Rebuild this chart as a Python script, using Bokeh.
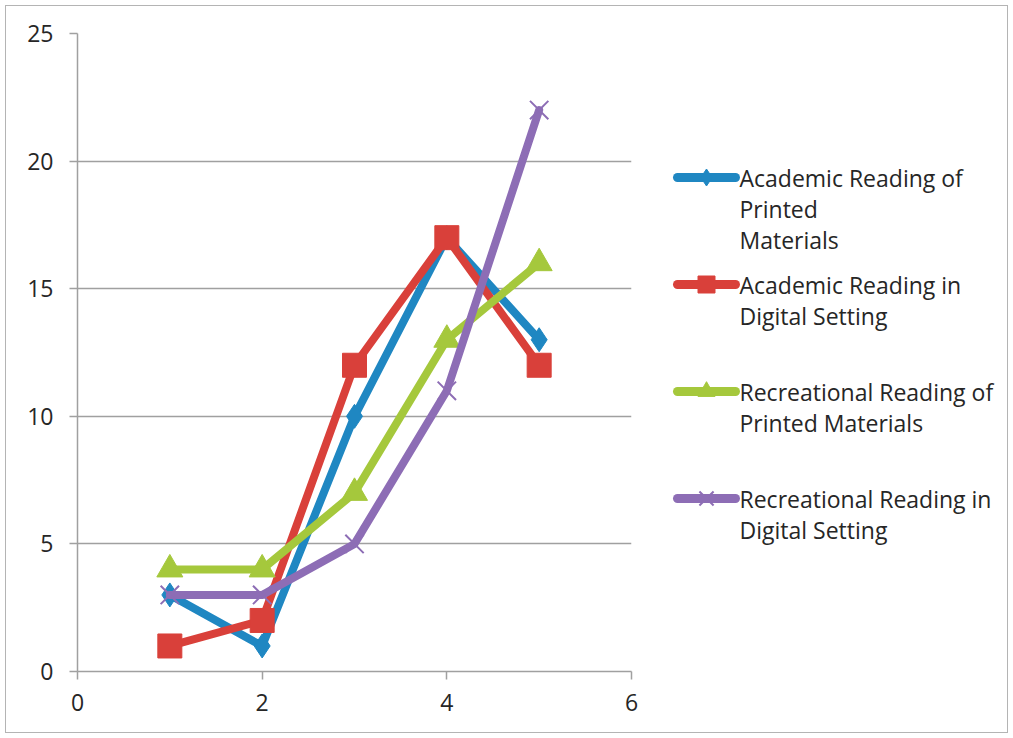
from bokeh.plotting import figure
from bokeh.layouts import row
from bokeh.models import Range1d, FixedTicker
from bokeh.core.properties import value
from bokeh.embed import file_html
from bokeh.resources import INLINE

# Survey scale positions and counts for each reading type
x_vals = [1, 2, 3, 4, 5]
academic_printed = [3, 1, 10, 17, 13]
academic_digital = [1, 2, 12, 17, 12]
recreational_printed = [4, 4, 7, 13, 16]
recreational_digital = [3, 3, 5, 11, 22]

series_names = [
    ["Academic Reading of", "Printed", "Materials"],
    ["Academic Reading in", "Digital Setting"],
    ["Recreational Reading of", "Printed Materials"],
    ["Recreational Reading in", "Digital Setting"],
]
y_ticks = [0, 5, 10, 15, 20, 25]
x_ticks = [0, 2, 4, 6]

FONT = "Open Sans"
TEXT_COLOR = "#262626"
GRID_COLOR = "#a0a0a0"

series = [
    (academic_printed, "#1f87c2", "diamond", 24, 1),
    (academic_digital, "#d9403a", "square", 24, 1),
    (recreational_printed, "#a5c83c", "triangle", 26, 1),
    (recreational_digital, "#8d6db5", "x", 26, 2),
]

p = figure(width=660, height=738, x_range=Range1d(0, 6), y_range=Range1d(0, 25),
           output_backend="svg", toolbar_location=None,
           min_border_left=77, min_border_right=29, min_border_top=33, min_border_bottom=67)
p.outline_line_color = None
p.background_fill_color = "white"
p.border_fill_color = None

p.xgrid.grid_line_color = None
p.ygrid.grid_line_color = GRID_COLOR
p.ygrid.grid_line_width = 1.5
p.ygrid.ticker = FixedTicker(ticks=y_ticks)

for ax, ticks in ((p.xaxis, x_ticks), (p.yaxis, y_ticks)):
    ax.ticker = FixedTicker(ticks=ticks)
    ax.axis_line_color = GRID_COLOR
    ax.axis_line_width = 1.5
    ax.major_tick_line_color = GRID_COLOR
    ax.major_tick_line_width = 1.5
    ax.major_tick_out = 8
    ax.major_tick_in = 0
    ax.minor_tick_line_color = None
    ax.major_label_text_font = FONT
    ax.major_label_text_font_size = "23px"
    ax.major_label_text_color = TEXT_COLOR
p.yaxis.major_label_standoff = 16
p.xaxis.major_label_standoff = 14

for ys, color, marker, size, lw in series:
    p.line(x_vals, ys, line_color=color, line_width=8, line_join="round", line_cap="round")
    if marker == "x":
        p.scatter(x_vals, ys, marker=marker, size=size, line_color=color, line_width=lw)
    else:
        p.scatter(x_vals, ys, marker=marker, size=size, fill_color=color, line_color=color)

# Legend panel in pixel coordinates; its frame lines up with the plot frame (rows 33..671)
leg = figure(width=353, height=738, x_range=Range1d(660, 1013), y_range=Range1d(671, 33),
             output_backend="svg", toolbar_location=None,
             min_border_left=0, min_border_right=0, min_border_top=33, min_border_bottom=67)
leg.axis.visible = False
leg.grid.visible = False
leg.outline_line_color = None
leg.border_fill_color = None
leg.background_fill_color = None

entry_y = [177, 284, 391, 498]
line_gap = 31
for (ys, color, marker, size, lw), names, y0 in zip(series, series_names, entry_y):
    leg.line([677, 735], [y0, y0], line_color=color, line_width=9, line_cap="round")
    if marker == "x":
        leg.scatter([706], [y0], marker=marker, size=20, line_color=color, line_width=lw)
    else:
        leg.scatter([706], [y0], marker=marker, size=17, fill_color=color, line_color=color)
    for i, name in enumerate(names):
        leg.text([739], [y0 + i * line_gap], text=[name], text_font=value(FONT),
                 text_font_size="23px", text_color=TEXT_COLOR, text_baseline="middle")

layout = row(p, leg, styles={"outline": "1.5px solid #b4b4b4", "outline-offset": "-6px"})
open("out.html", "w").write(file_html(layout, INLINE))
